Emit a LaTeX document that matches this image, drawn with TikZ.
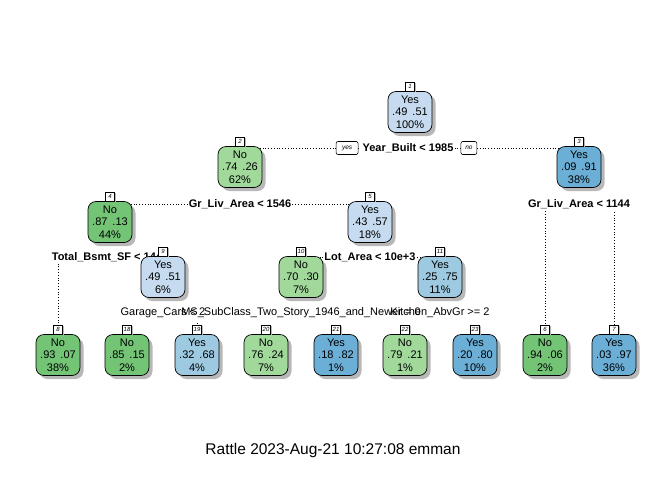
\documentclass[tikz,border=0pt]{standalone}
\usepackage{fontspec}
\setmainfont{Liberation Sans}
\usepackage{xcolor}
\usetikzlibrary{positioning,shadows,backgrounds}
\pgfdeclarelayer{masks}
\pgfsetlayers{background,masks,main}
\definecolor{blueA}{HTML}{C6DBEF}
\definecolor{blueB}{HTML}{9ECAE1}
\definecolor{blueC}{HTML}{6BAED6}
\definecolor{greenB}{HTML}{A1D99B}
\definecolor{greenC}{HTML}{74C476}
\definecolor{shadowgray}{gray}{0.72}
\newcommand{\rp}[4]{#1\\#2\hspace{5pt}#3\\#4\%}
\tikzset{
  treenode/.style={draw, line width=0.7pt, rounded corners=8pt, minimum width=44pt,
    minimum height=41pt, inner sep=0pt, align=center, font=\fontsize{11}{12.5}\selectfont,
    drop shadow={shadow xshift=3.5pt, shadow yshift=-3.5pt, fill=shadowgray, opacity=1}},
  numbox/.style={draw, fill=white, line width=0.6pt, inner sep=0.8pt, minimum width=8.5pt,
    minimum height=9pt, anchor=south, font=\fontsize{6}{6}\selectfont\itshape,
    drop shadow={shadow xshift=2pt, shadow yshift=-1.5pt, fill=shadowgray, opacity=1}},
  splitlabel/.style={font=\fontsize{11}{13}\selectfont\bfseries, inner sep=1pt},
  splitlow/.style={font=\fontsize{11}{13}\selectfont, inner sep=1pt, inner ysep=5pt},
  tagbox/.style={draw, fill=white, rounded corners=2pt, line width=0.6pt, inner sep=1pt,
    minimum height=13pt, font=\fontsize{6.5}{7}\selectfont\itshape},
  branch/.style={dotted, line width=0.8pt}
}

\begin{document}
\begin{tikzpicture}[x=1pt,y=-1pt]
  \useasboundingbox (0,0) rectangle (672,480);

  \node [splitlabel] (s1) at (408,148) {Year\_Built < 1985};
  \node [tagbox, minimum width=22pt, left=3pt of s1] (yes) {yes};
  \node [tagbox, minimum width=16pt, right=6pt of s1] (no) {no};
  \node [splitlabel] (s2) at (240,204) {Gr\_Liv\_Area < 1546};
  \node [splitlabel] (s3) at (579,204) {Gr\_Liv\_Area < 1144};
  \node [splitlabel] (s4) at (110,257) {Total\_Bsmt\_SF < 1445};
  \node [splitlabel] (s5) at (370,257) {Lot\_Area < 10e+3};
  \node [splitlow] (s9) at (163,313) {Garage\_Cars < 2};
  \node [splitlow] (s10) at (301,313) {MS\_SubClass\_Two\_Story\_1946\_and\_Newer = 0};
  \node [splitlow] (s11) at (440,313) {Kitchen\_AbvGr >= 2};

  \node [treenode, fill=blueA] (n1) at (410,112) {\rp{Yes}{.49}{.51}{100}};
  \node [numbox] (k1) at (n1.north) {1};
  \node [treenode, fill=greenB] (n2) at (240,167) {\rp{No}{.74}{.26}{62}};
  \node [numbox] (k2) at (n2.north) {2};
  \node [treenode, fill=blueC] (n3) at (579,167) {\rp{Yes}{.09}{.91}{38}};
  \node [numbox] (k3) at (n3.north) {3};
  \node [treenode, fill=greenC] (n4) at (110,222) {\rp{No}{.87}{.13}{44}};
  \node [numbox] (k4) at (n4.north) {4};
  \node [treenode, fill=blueA] (n5) at (370,222) {\rp{Yes}{.43}{.57}{18}};
  \node [numbox] (k5) at (n5.north) {5};
  \node [treenode, fill=blueA] (n9) at (163,277) {\rp{Yes}{.49}{.51}{6}};
  \node [numbox] (k9) at (n9.north) {9};
  \node [treenode, fill=greenB] (n10) at (301,277) {\rp{No}{.70}{.30}{7}};
  \node [numbox] (k10) at (n10.north) {10};
  \node [treenode, fill=blueB] (n11) at (440,277) {\rp{Yes}{.25}{.75}{11}};
  \node [numbox] (k11) at (n11.north) {11};

  \foreach \k/\x/\col/\cls/\a/\b/\pc in {8/58/greenC/No/.93/.07/38, 18/127/greenC/No/.85/.15/2,
      19/197/blueB/Yes/.32/.68/4, 20/266/greenB/No/.76/.24/7, 21/336/blueC/Yes/.18/.82/1,
      22/405/greenB/No/.79/.21/1, 23/475/blueC/Yes/.20/.80/10, 6/545/greenC/No/.94/.06/2,
      7/614/blueC/Yes/.03/.97/36} {
    \node [treenode, fill=\col] (n\k) at (\x,355) {\rp{\cls}{\a}{\b}{\pc}};
    \node [numbox] (k\k) at (n\k.north) {\k};
  }

  \node [font=\fontsize{15.5}{18}\selectfont] (caption) at (333,450) {Rattle 2023-Aug-21 10:27:08 emman};

  \begin{pgfonlayer}{masks}
    \foreach \s in {s1,s2,s3,s4,s5,s9,s10,s11}
      \fill [white] (\s.south west) rectangle (\s.north east);
  \end{pgfonlayer}

  \begin{scope}[on background layer]
    \foreach \s/\c in {s1/n2, s1/n3, s2/n4, s2/n5, s3/n6, s3/n7, s4/n8, s4/n9, s5/n10, s5/n11,
        s9/n18, s9/n19, s10/n20, s10/n21, s11/n22, s11/n23}
      \draw [branch] (\s) -| (\c);
  \end{scope}
\end{tikzpicture}
\end{document}
